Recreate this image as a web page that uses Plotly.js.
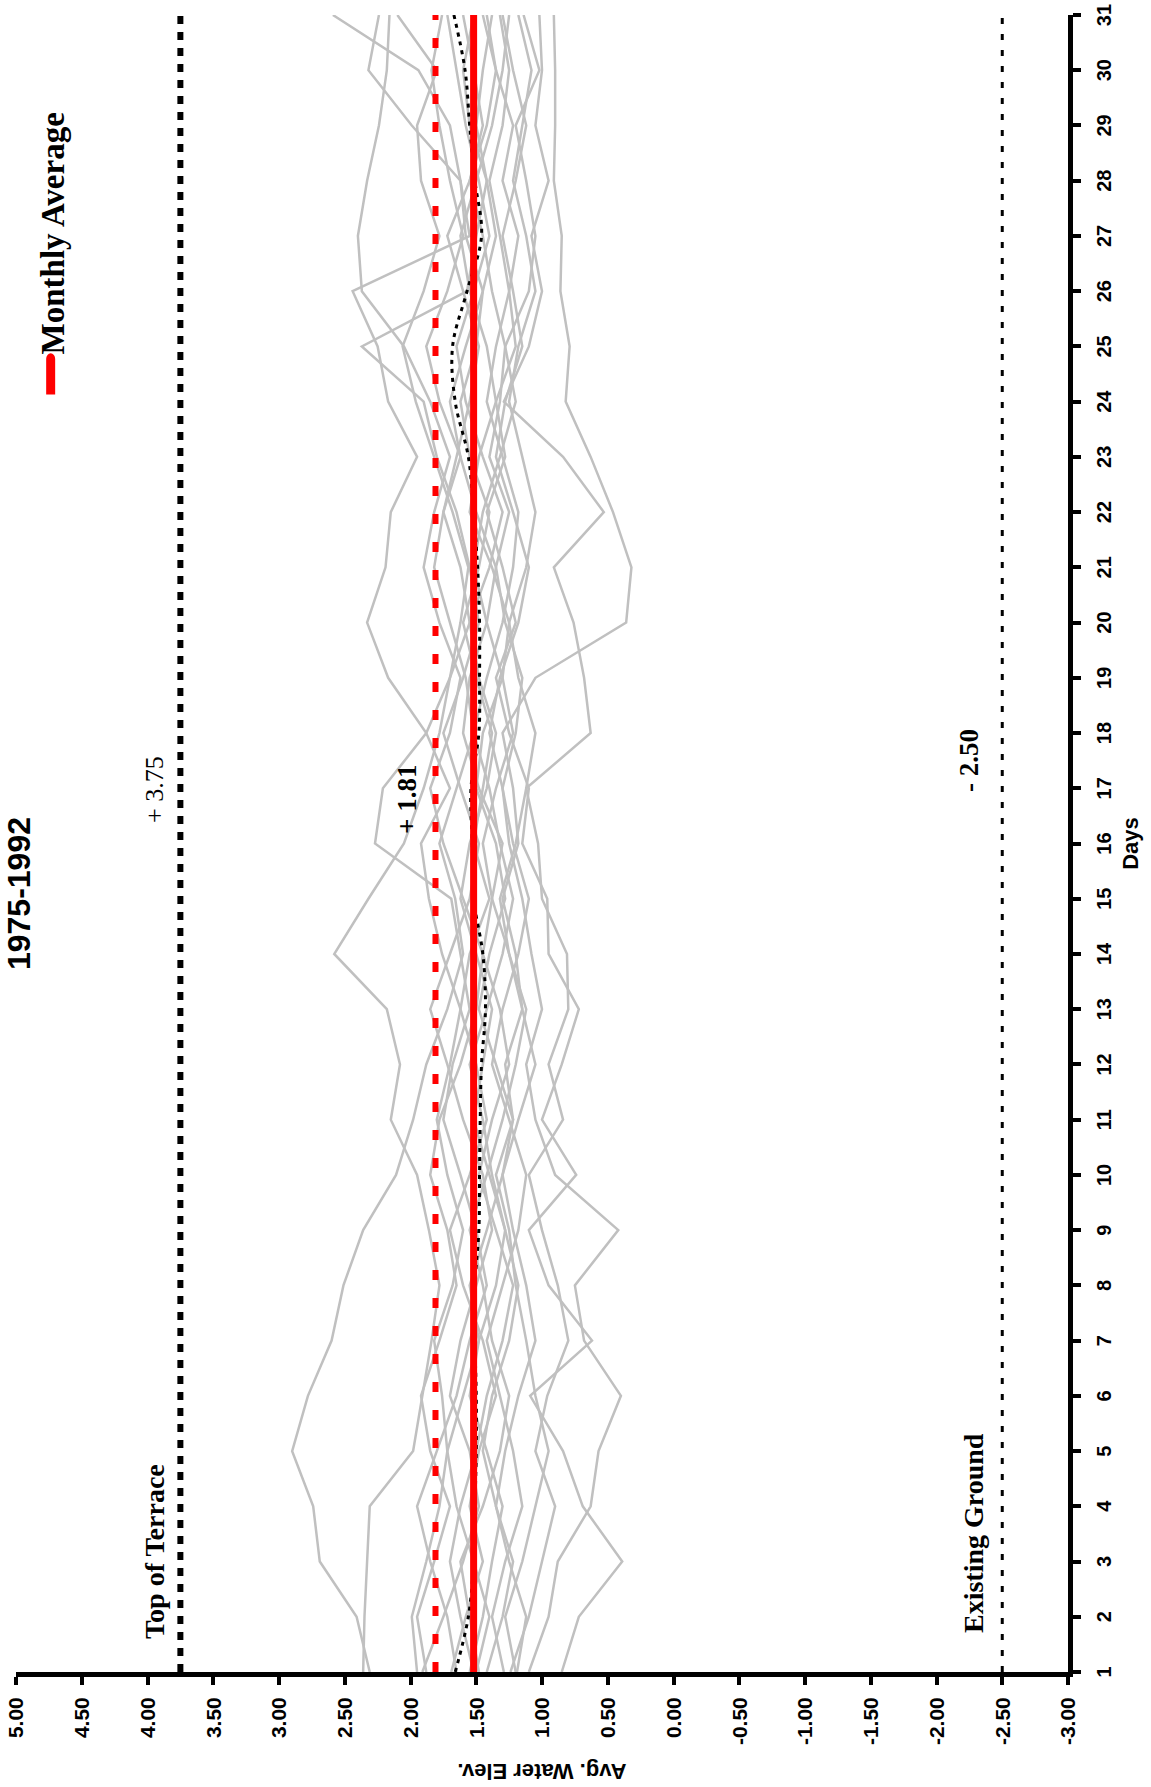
<!DOCTYPE html>
<html>
<head>
<meta charset="utf-8">
<script src="https://cdn.plot.ly/plotly-3.0.1.min.js"></script>
<style>
  html, body { margin: 0; padding: 0; background: #ffffff; overflow: hidden; }
  #wrap { position: absolute; left: 0; top: 0; width: 1151px; height: 1787px; overflow: hidden; }
  #chart { position: absolute; left: 0; top: 0; width: 1787px; height: 1151px;
           transform-origin: 0 0; transform: translateY(1787px) rotate(-90deg); }
  #chart .legendlines path { transform: translateX(-9px) scaleX(1.27); stroke-linecap: round; stroke-width: 9px !important; }
</style>
</head>
<body>
<div id="wrap"><div id="chart"></div></div>
<script>
// ---------------- data ----------------
const days = [1,2,3,4,5,6,7,8,9,10,11,12,13,14,15,16,17,18,19,20,21,22,23,24,25,26,27,28,29,30,31];

const y1975 = [2.31,2.41,2.69,2.74,2.90,2.78,2.60,2.51,2.36,2.11,1.98,1.88,1.72,1.60,1.66,1.78,1.65,1.52,1.58,1.70,1.82,1.75,1.62,1.78,1.88,1.72,1.60,1.70,1.78,1.84,1.76];
const y1976 = [2.36,2.35,2.33,2.31,1.98,1.91,1.84,1.78,1.86,1.95,2.15,2.08,2.18,2.58,2.32,2.05,1.90,1.78,1.70,1.62,1.56,1.68,1.82,1.96,2.06,1.90,1.78,1.92,1.95,1.80,2.10];
const y1977 = [1.95,1.99,1.88,1.78,1.72,1.76,1.82,1.68,1.60,1.72,1.80,1.70,1.62,1.76,1.86,1.92,1.70,1.88,2.17,2.33,2.19,2.15,1.95,2.17,2.25,2.44,1.55,1.62,1.70,1.94,2.59];
const y1978 = [0.85,0.72,0.39,0.69,0.84,1.09,0.62,0.95,1.10,0.74,1.00,0.85,0.72,0.95,0.96,1.15,1.10,1.25,1.35,1.20,1.30,1.42,1.28,1.35,1.20,1.25,1.18,1.30,1.22,1.35,1.42];
const y1979 = [1.10,0.95,0.88,0.63,0.57,0.40,0.68,0.75,0.42,0.90,1.05,1.12,1.00,1.08,1.15,1.25,1.30,1.20,1.15,1.28,1.35,1.25,1.40,1.32,1.28,1.10,1.05,1.12,1.20,1.02,1.14];
const y1980 = [1.20,1.28,1.15,1.05,0.95,1.05,1.12,1.20,1.25,1.35,1.22,1.28,1.15,1.20,1.30,1.18,1.22,1.30,1.05,0.36,0.32,0.46,0.63,0.82,0.79,0.86,0.85,0.91,0.90,0.90,0.91];
const y1981 = [1.24,1.10,1.00,0.90,1.05,0.96,0.80,0.88,1.00,1.10,0.84,0.95,0.80,0.81,1.00,1.03,1.12,0.63,0.68,0.76,0.91,0.53,0.84,1.29,1.10,1.00,1.08,0.95,1.05,1.00,1.02];
const y1982 = [1.91,1.75,1.60,1.48,1.55,1.70,1.62,1.50,1.38,1.45,1.60,1.72,1.85,1.70,1.55,1.48,1.62,1.75,1.60,1.48,1.55,1.65,1.80,1.90,2.37,1.57,1.50,1.42,1.55,1.60,1.52];
const y1983 = [1.88,1.95,1.82,1.70,1.85,1.92,1.78,1.65,1.72,1.85,1.78,1.62,1.50,1.45,1.60,1.75,1.85,1.70,1.62,1.78,1.90,1.82,1.70,1.85,2.05,2.37,2.40,2.33,2.24,2.18,2.16];
const y1984 = [1.69,1.58,1.45,1.55,1.48,1.35,1.45,1.60,1.70,1.55,1.42,1.50,1.62,1.55,1.40,1.52,1.45,1.38,1.50,1.60,1.48,1.40,1.55,1.62,1.50,1.45,1.58,1.62,1.99,2.32,2.24];
const y1985 = [1.65,1.72,1.85,1.95,1.80,1.65,1.55,1.42,1.50,1.62,1.75,1.68,1.55,1.62,1.69,2.27,2.21,1.88,1.70,1.55,1.62,1.75,1.65,1.55,1.48,1.60,1.72,1.55,1.45,1.52,1.60];
const y1986 = [1.55,1.45,1.38,1.30,1.42,1.55,1.48,1.35,1.28,1.40,1.52,1.45,1.38,1.50,1.62,1.55,1.42,1.35,1.48,1.55,1.40,1.30,1.45,1.58,1.65,1.52,1.40,1.48,1.58,1.65,1.72];
const y1987 = [1.52,1.62,1.70,1.62,1.50,1.42,1.30,1.22,1.35,1.48,1.38,1.25,1.32,1.45,1.38,1.30,1.48,1.60,1.55,1.42,1.35,1.50,1.62,1.70,1.58,1.45,1.35,1.42,1.50,1.45,1.38];
const y1988 = [1.50,1.40,1.52,1.65,1.72,1.60,1.48,1.55,1.42,1.30,1.22,1.35,1.48,1.40,1.28,1.35,1.50,1.45,1.30,1.25,1.38,1.55,1.48,1.35,1.42,1.55,1.62,1.50,1.38,1.30,1.25];
const y1989 = [1.48,1.55,1.62,1.45,1.32,1.25,1.38,1.45,1.55,1.42,1.30,1.20,1.12,1.25,1.38,1.45,1.35,1.22,1.30,1.42,1.52,1.45,1.32,1.20,1.28,1.38,1.45,1.55,1.42,1.35,1.45];
const y1990 = [1.42,1.30,1.22,1.35,1.45,1.38,1.25,1.18,1.28,1.38,1.45,1.55,1.42,1.30,1.22,1.32,1.40,1.52,1.42,1.30,1.22,1.18,1.30,1.42,1.35,1.25,1.32,1.40,1.30,1.25,1.32];
const y1991 = [1.29,1.38,1.28,1.15,1.22,1.32,1.42,1.30,1.18,1.12,1.25,1.38,1.30,1.18,1.10,1.22,1.30,1.40,1.32,1.18,1.10,1.22,1.35,1.28,1.15,1.22,1.30,1.20,1.12,1.22,1.30];
const y1992 = [1.19,1.12,1.25,1.35,1.28,1.18,1.05,1.12,1.22,1.30,1.18,1.05,1.15,1.25,1.32,1.20,1.12,1.05,1.18,1.25,1.12,1.05,1.15,1.25,1.18,1.05,1.12,1.22,1.15,1.08,1.18];

const dailyMean = [1.66,1.56,1.52,1.51,1.50,1.50,1.51,1.51,1.48,1.475,1.47,1.46,1.43,1.45,1.52,1.53,1.54,1.48,1.475,1.475,1.49,1.52,1.56,1.66,1.68,1.57,1.46,1.51,1.55,1.585,1.67];

const monthlyAverage = 1.52;
const highWater = 1.81;
const topOfTerrace = 3.75;
const existingGround = -2.50;

const elevTickVals = [5,4.5,4,3.5,3,2.5,2,1.5,1,0.5,0,-0.5,-1,-1.5,-2,-2.5,-3];
const elevTickText = ["5.00","4.50","4.00","3.50","3.00","2.50","2.00","1.50","1.00","0.50","0.00","-0.50","-1.00","-1.50","-2.00","-2.50","-3.00"];
const dayTickText = days.map(String);

const yearSeries = [y1975,y1976,y1977,y1978,y1979,y1980,y1981,y1982,y1983,y1984,y1985,y1986,y1987,y1988,y1989,y1990,y1991,y1992];
const yearNames = ["1975","1976","1977","1978","1979","1980","1981","1982","1983","1984","1985","1986","1987","1988","1989","1990","1991","1992"];

// ---------------- traces ----------------
const traces = [];
yearSeries.forEach((s, i) => {
  traces.push({x: days, y: s, type: 'scatter', mode: 'lines', name: yearNames[i],
    line: {color: '#c0c0c0', width: 2.5}, showlegend: false, hoverinfo: 'skip'});
});
const dayEnds = [days[0], days[days.length - 1]];
traces.push({x: days, y: dailyMean, type: 'scatter', mode: 'lines', name: 'Daily Mean',
  line: {color: '#000000', width: 3, dash: '4px,5px', shape: 'spline', smoothing: 1}, showlegend: false});
traces.push({x: dayEnds, y: [highWater, highWater], type: 'scatter', mode: 'lines', name: '+1.81',
  line: {color: '#ff0000', width: 6, dash: '10px,18px'}, showlegend: false});
traces.push({x: dayEnds, y: [monthlyAverage, monthlyAverage], type: 'scatter', mode: 'lines', name: 'Monthly Average',
  line: {color: '#ff0000', width: 7}, showlegend: true});
traces.push({x: dayEnds, y: [topOfTerrace, topOfTerrace], type: 'scatter', mode: 'lines', name: 'Top of Terrace',
  line: {color: '#000000', width: 6, dash: '8px,8px'}, showlegend: false});
traces.push({x: dayEnds, y: [existingGround, existingGround], type: 'scatter', mode: 'lines', name: 'Existing Ground',
  line: {color: '#000000', width: 3, dash: '6px,10px'}, showlegend: false});

const sansBold = {family: 'Liberation Sans, Arial, sans-serif', weight: 'bold', color: '#000000'};
const serif = 'Liberation Serif, Times New Roman, serif';

const layout = {
  width: 1787, height: 1151,
  margin: {l: 115, r: 15, t: 16, b: 83, pad: 0},
  paper_bgcolor: '#ffffff', plot_bgcolor: '#ffffff',
  title: {text: '1975-1992', font: Object.assign({}, sansBold, {size: 32}),
          x: 0.5, xref: 'container', xanchor: 'center', y: 0.984, yref: 'container', yanchor: 'middle'},
  showlegend: true,
  legend: {x: 0.771, y: 0.967, xanchor: 'left', yanchor: 'middle', bgcolor: 'rgba(0,0,0,0)',
           font: {family: serif, size: 33, weight: 'bold', color: '#000000'}},
  xaxis: {range: [1, 31], tickmode: 'array', tickvals: days, ticktext: dayTickText,
          showgrid: false, zeroline: false, showline: true, linecolor: '#000000', linewidth: 5,
          ticks: 'outside', ticklen: 8, tickwidth: 4, tickcolor: '#000000', ticklabelstandoff: 6,
          tickfont: Object.assign({}, sansBold, {size: 20}),
          title: {text: 'Days', font: Object.assign({}, sansBold, {size: 22}), standoff: 10},
          automargin: false, fixedrange: true},
  yaxis: {range: [-3, 5], tickmode: 'array', tickvals: elevTickVals, ticktext: elevTickText,
          showgrid: false, zeroline: false, showline: true, linecolor: '#000000', linewidth: 5,
          ticks: 'outside', ticklen: 8, tickwidth: 4, tickcolor: '#000000', ticklabelstandoff: 8,
          tickfont: Object.assign({}, sansBold, {size: 21}),
          title: {text: 'Avg. Water Elev.', font: Object.assign({}, sansBold, {size: 22}), standoff: 14},
          automargin: false, fixedrange: true},
  annotations: [
    {x: 1.56, y: 3.95, xref: 'x', yref: 'y', xanchor: 'left', yanchor: 'middle', showarrow: false,
     text: 'Top of Terrace', font: {family: serif, size: 28, weight: 'bold', color: '#000000'}},
    {x: 16.97, y: 3.95, xref: 'x', yref: 'y', xanchor: 'center', yanchor: 'middle', showarrow: false,
     text: '+ ' + topOfTerrace.toFixed(2), font: {family: serif, size: 26, color: '#000000'}},
    {x: 16.79, y: 2.03, xref: 'x', yref: 'y', xanchor: 'center', yanchor: 'middle', showarrow: false,
     text: '+ ' + highWater.toFixed(2), font: {family: serif, size: 27, weight: 'bold', color: '#000000'}},
    {x: 17.51, y: -2.25, xref: 'x', yref: 'y', xanchor: 'center', yanchor: 'middle', showarrow: false,
     text: '- ' + Math.abs(existingGround).toFixed(2), font: {family: serif, size: 27, weight: 'bold', color: '#000000'}},
    {x: 1.67, y: -2.285, xref: 'x', yref: 'y', xanchor: 'left', yanchor: 'middle', showarrow: false,
     text: 'Existing Ground', font: {family: serif, size: 28, weight: 'bold', color: '#000000'}}
  ]
};

Plotly.newPlot('chart', traces, layout, {displayModeBar: false, staticPlot: true});
</script>
</body>
</html>
